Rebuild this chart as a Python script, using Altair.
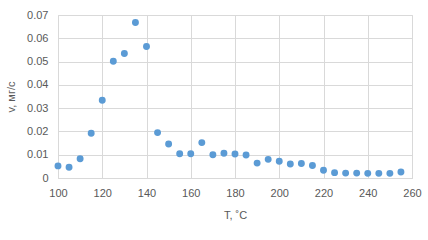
import altair as alt
import pandas as pd

T = [100, 105, 110, 115, 120, 125, 130, 135, 140, 145, 150, 155, 160, 165, 170,
     175, 180, 185, 190, 195, 200, 205, 210, 215, 220, 225, 230, 235, 240, 245, 250, 255]
v = [0.0052, 0.0046, 0.0083, 0.0192, 0.0334, 0.0501, 0.0535, 0.0668, 0.0565, 0.0195,
     0.0146, 0.0104, 0.0104, 0.0152, 0.0100, 0.0106, 0.0103, 0.0099, 0.0064, 0.0080,
     0.0072, 0.0060, 0.0062, 0.0054, 0.0033, 0.0023, 0.0021, 0.0021, 0.0020, 0.0020,
     0.0020, 0.0026]

df = pd.DataFrame({"T": T, "v": v})

font = "Liberation Sans"
grey = "#595959"

chart = alt.Chart(df).mark_circle(size=48, color="#5B9BD5", opacity=1).encode(
    x=alt.X("T:Q", scale=alt.Scale(domain=[100, 260], nice=False, zero=False),
            axis=alt.Axis(title="T, ˚C", values=list(range(100, 261, 20)),
                          tickSize=0, labelPadding=9, titlePadding=11,
                          labelFlush=False, labelOverlap=False,
                          domainColor="#D9D9D9", gridColor="#D9D9D9", grid=True,
                          labelFont=font, titleFont=font, labelFontSize=11,
                          titleFontSize=11, labelColor=grey, titleColor=grey,
                          titleFontWeight="normal")),
    y=alt.Y("v:Q", scale=alt.Scale(domain=[0, 0.07], nice=False),
            axis=alt.Axis(title="v, мг/с", values=[0, 0.01, 0.02, 0.03, 0.04, 0.05, 0.06, 0.07],
                          labelExpr="datum.value == 0 ? '0' : format(datum.value, '.2f')",
                          tickSize=0, labelPadding=10, titlePadding=10, domain=False,
                          labelFlush=False, labelOverlap=False,
                          gridColor="#D9D9D9", grid=True,
                          labelFont=font, titleFont=font, labelFontSize=11,
                          titleFontSize=11, labelColor=grey, titleColor=grey,
                          titleFontWeight="normal")),
).properties(
    width=354, height=163,
    autosize=alt.AutoSizeParams(type="none"),
    padding={"left": 58, "top": 15, "right": 16, "bottom": 62},
).configure_view(stroke=None).configure(background="white")

chart.save("out.html", embed_options={"renderer": "svg", "actions": False})
